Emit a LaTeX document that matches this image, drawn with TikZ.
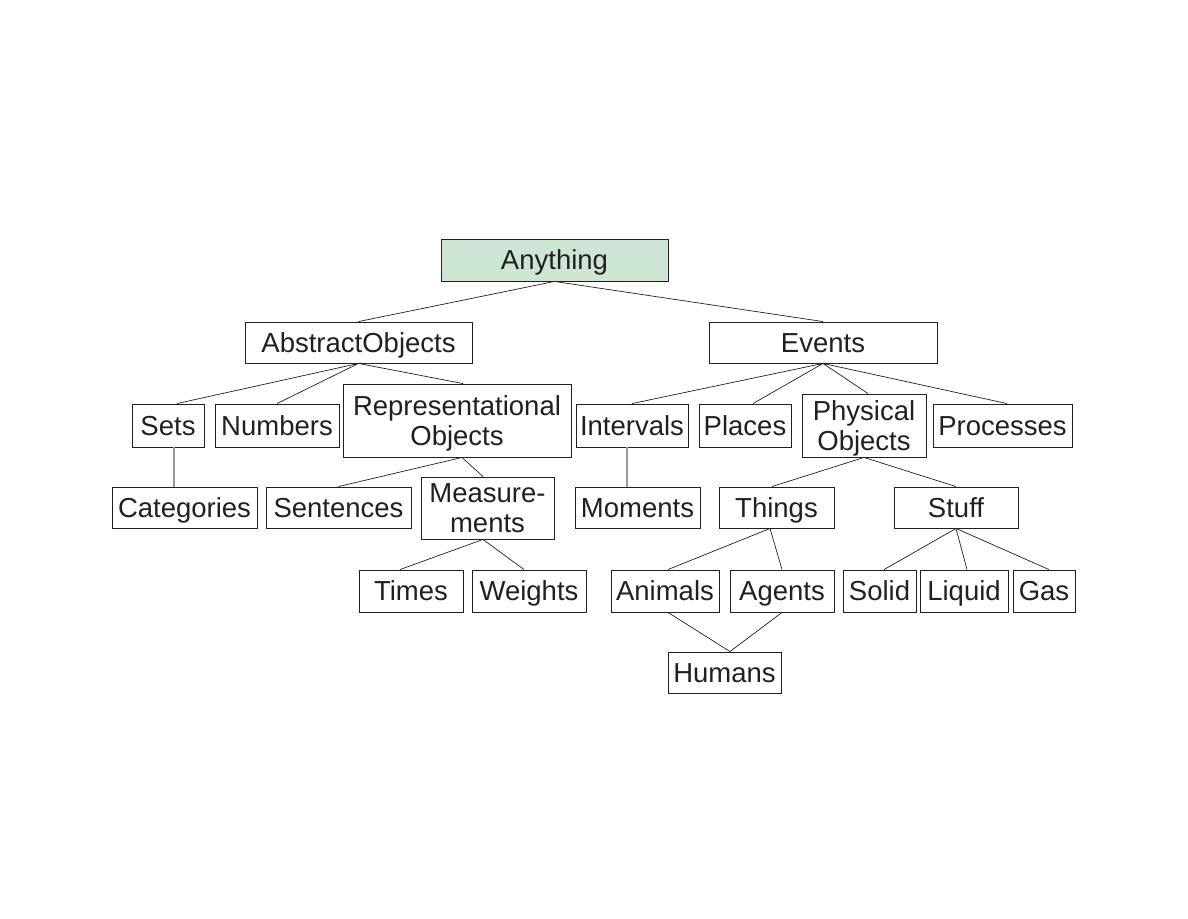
\documentclass[tikz,border=0pt]{standalone}
\usepackage{fontspec}
\setmainfont{Liberation Sans}
\usetikzlibrary{positioning}
\definecolor{rootfill}{HTML}{CDE6D3}
\definecolor{ink}{HTML}{231F20}
\tikzset{
  clsbox/.style={draw=ink,line width=0.9pt,text=ink,inner sep=0pt,minimum height=41pt,
    font=\fontsize{27.5}{30}\selectfont,align=center,text depth=0pt},
  cls/.style={clsbox,text height=19.5pt},
  root/.style={cls,fill=rootfill},
  isa/.style={draw=ink,line width=0.7pt},
  isagray/.style={draw=black!40,line width=1.1pt},
}

\begin{document}
\begin{tikzpicture}[x=1pt,y=-1pt]
  \useasboundingbox (0,0) rectangle (1188,918);
  % top two levels
  \node[root,minimum width=227pt,minimum height=42pt] (anything) at (554.5,260) {Anything};
  \node[cls,minimum width=227pt] (abstract) at (358.5,342.5) {AbstractObjects};
  \node[cls,minimum width=228pt] (events)   at (823,342.5)   {Events};
  % third level
  \node[cls,minimum width=72pt,minimum height=43pt]     (sets)      at (168,425.5)    {Sets};
  \node[cls,minimum width=124pt,minimum height=43pt]    (numbers)   at (277,425.5)    {Numbers};
  \node[clsbox,minimum width=228pt,minimum height=73pt] (repr)      at (457,420.5)    {Representational\\Objects};
  \node[cls,minimum width=112pt,minimum height=43pt]    (intervals) at (632,425.5)    {Intervals};
  \node[cls,minimum width=92pt,minimum height=43pt]     (places)    at (745,425.5)    {Places};
  \node[clsbox,minimum width=124pt,minimum height=63pt] (physical)  at (864,425.5)    {Physical\\Objects};
  \node[cls,minimum width=139pt,minimum height=43pt]    (processes) at (1002.5,425.5) {Processes};
  % fourth level
  \node[cls,minimum width=145pt] (categories) at (184.5,507.5) {Categories};
  \node[cls,minimum width=145pt] (sentences)  at (338.5,507.5) {Sentences};
  \node[clsbox,minimum width=133pt,minimum height=62pt] (measure) at (487.5,508) {Measure-\\ments};
  \node[cls,minimum width=125pt] (moments)    at (637.5,507.5) {Moments};
  \node[cls,minimum width=115pt] (things)     at (776.5,507.5) {Things};
  \node[cls,minimum width=124pt] (stuff)      at (956,507.5)   {Stuff};
  % fifth level
  \node[cls,minimum width=104pt,minimum height=42pt] (times)   at (411,591)    {Times};
  \node[cls,minimum width=114pt,minimum height=42pt] (weights) at (529,591)    {Weights};
  \node[cls,minimum width=108pt,minimum height=42pt] (animals) at (665,591)    {Animals};
  \node[cls,minimum width=104pt,minimum height=42pt] (agents)  at (782,591)    {Agents};
  \node[cls,minimum width=73pt,minimum height=42pt]  (solid)   at (879.5,591)  {Solid};
  \node[cls,minimum width=88pt,minimum height=42pt]  (liquid)  at (964,591)    {Liquid};
  \node[cls,minimum width=62pt,minimum height=42pt]  (gas)     at (1044,591)   {Gas};
  \node[cls,minimum width=113pt] (humans) at (724.5,672.5) {Humans};

  % links
  \draw[isa] (abstract.north) -- (anything.south) -- (events.north);
  \draw[isa] ([xshift=9pt]sets.north) -- (abstract.south) -- (numbers.north);
  \draw[isa] (abstract.south) -- ([xshift=6pt]repr.north);
  \draw[isa] (intervals.north) -- (events.south) -- ([xshift=8pt]places.north);
  \draw[isa] ([xshift=4pt]physical.north) -- (events.south) -- ([xshift=4.5pt]processes.north);
  \draw[isagray] ([xshift=6pt]sets.south) -- ([xshift=-10.5pt]categories.north);
  \draw[isagray] ([xshift=-5pt]intervals.south) -- ([xshift=-10.5pt]moments.north);
  \draw[isa] (sentences.north) -- ([xshift=5pt]repr.south) -- ([xshift=-4.5pt]measure.north);
  \draw[isa] ([xshift=-11pt]times.north) -- ([xshift=-4.5pt]measure.south) -- ([xshift=-5pt]weights.north);
  \draw[isa] ([xshift=-4.5pt]things.north) -- (physical.south) -- (stuff.north);
  \draw[isa] ([xshift=3pt]animals.north) -- ([xshift=-6.5pt]things.south) -- (agents.north);
  \draw[isa] ([xshift=4.5pt]solid.north) -- (stuff.south) -- ([xshift=3pt]liquid.north);
  \draw[isa] (stuff.south) -- ([xshift=5pt]gas.north);
  \draw[isa] ([xshift=3pt]animals.south) -- ([xshift=5.5pt]humans.north) -- (agents.south);
\end{tikzpicture}
\end{document}
